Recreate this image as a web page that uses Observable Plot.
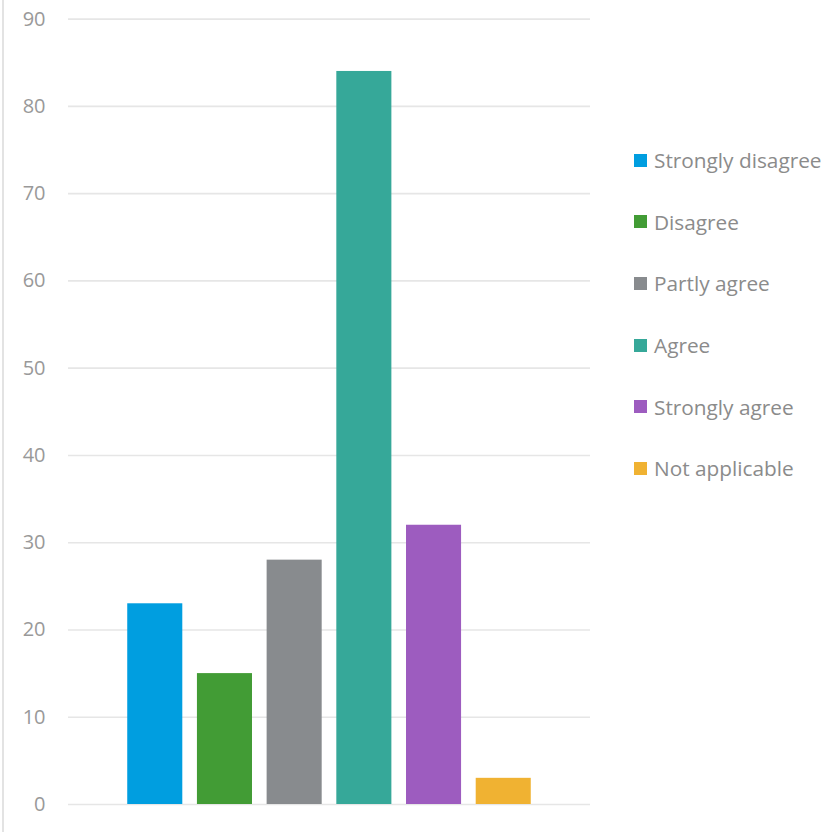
<!DOCTYPE html>
<html>
<head>
<meta charset="utf-8">
<script src="https://cdn.jsdelivr.net/npm/d3@7"></script>
<script src="https://cdn.jsdelivr.net/npm/@observablehq/plot@0.6"></script>
<style>
  html, body { margin: 0; padding: 0; background: #fff; }
  #wrap { position: relative; width: 839px; height: 832px; overflow: hidden; font-family: "Open Sans", sans-serif; }
  #border { position: absolute; left: 2px; top: 0; width: 2px; height: 832px; background: #e3e3e3; }
  #legend { position: absolute; left: 634px; top: 0; }
  .item { position: absolute; left: 0; display: flex; align-items: center; white-space: nowrap; font-size: 20.8px; color: #8b8b8b; height: 30px; }
  .sw { width: 13px; height: 13px; margin-right: 7px; flex: none; }
</style>
</head>
<body>
<div id="wrap">
  <div id="chart"></div>
  <div id="border"></div>
  <div id="legend"></div>
</div>
<script>
const categories = ["Strongly disagree", "Disagree", "Partly agree", "Agree", "Strongly agree", "Not applicable"];
const values = [23, 15, 28, 84, 32, 3];
const colors = ["#009ee0", "#429c35", "#888b8e", "#36a899", "#9d5cbf", "#f0b232"];
const yTicks = [0, 10, 20, 30, 40, 50, 60, 70, 80, 90];

const data = categories.map((c, i) => ({category: c, value: values[i]}));

const chart = Plot.plot({
  width: 839,
  height: 832,
  marginLeft: 68,
  marginRight: 249,
  marginTop: 18.6,
  marginBottom: 28,
  style: { fontFamily: "Open Sans, sans-serif", background: "transparent" },
  x: { domain: categories, paddingInner: 0.21, paddingOuter: 0.85, round: false, axis: null },
  y: { domain: [0, 90], ticks: yTicks, label: null },
  color: { domain: categories, range: colors },
  marks: [
    Plot.gridY(yTicks, { stroke: "#e6e6e6", strokeOpacity: 1, strokeWidth: 1.6 }),
    Plot.axisY(yTicks, { tickSize: 0, tickPadding: 23, fontSize: 20, fill: "#999999", label: null }),
    Plot.barY(data, { x: "category", y: "value", fill: "category" })
  ]
});
document.getElementById("chart").appendChild(chart);

const legendCenters = [160, 221.5, 283, 345, 406.5, 468];
const legend = document.getElementById("legend");
categories.forEach((c, i) => {
  const it = document.createElement("div");
  it.className = "item";
  it.style.top = (legendCenters[i] - 15) + "px";
  const sw = document.createElement("span");
  sw.className = "sw";
  sw.style.background = colors[i];
  const t = document.createElement("span");
  t.textContent = c;
  it.appendChild(sw);
  it.appendChild(t);
  legend.appendChild(it);
});
</script>
</body>
</html>
